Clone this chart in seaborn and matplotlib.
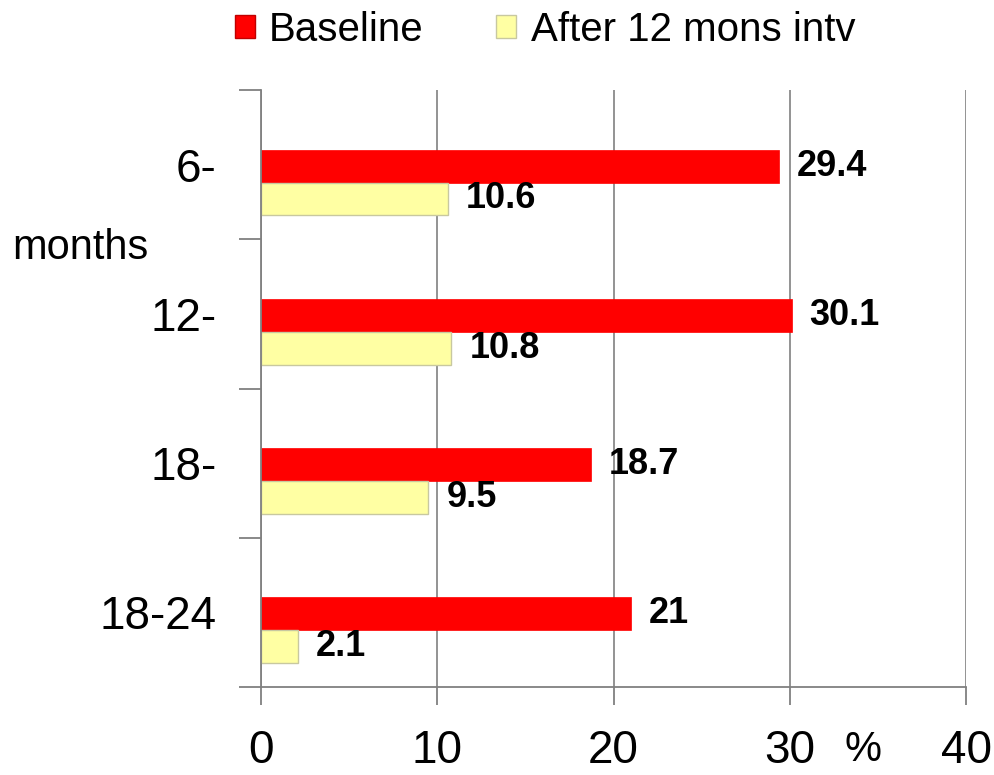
import matplotlib
matplotlib.use("Agg")
import matplotlib.pyplot as plt
from matplotlib.patches import Patch
import seaborn as sns
import pandas as pd
import numpy as np

categories = ["6-", "12-", "18-", "18-24"]
baseline = [29.4, 30.1, 18.7, 21.0]
after = [10.6, 10.8, 9.5, 2.1]
series_names = ["Baseline", "After 12 mons intv"]
x_ticks = [0, 10, 20, 30, 40]

sns.set_style("white")
plt.rcParams["font.family"] = ["Liberation Sans", "DejaVu Sans"]
plt.rcParams["text.color"] = "black"
plt.rcParams["xtick.color"] = "black"
plt.rcParams["ytick.color"] = "black"

idx = np.arange(len(categories))
offset = 0.12
df = pd.DataFrame({
    "pos": np.concatenate([idx + offset, idx + offset]),
    "value": baseline + after,
    "series": [series_names[0]] * len(categories) + [series_names[1]] * len(categories),
})

fig = plt.figure(figsize=(9.94, 7.75), dpi=100)
ax = fig.add_axes([261 / 994, 1 - 687 / 775, (966 - 261) / 994, (687 - 90) / 775])

red = "#FF0000"
yellow = "#FFFFA3"
sns.barplot(data=df, x="value", y="pos", hue="series", orient="h", native_scale=True,
            palette=[red, yellow], width=0.44, gap=0, ax=ax, legend=False,
            saturation=1)

for i, cont in enumerate(ax.containers):
    for p in cont:
        if i == 1:
            p.set_edgecolor("#C8C8A0")
            p.set_linewidth(1.0)
        else:
            p.set_edgecolor(red)
            p.set_linewidth(0.5)
    ax.bar_label(cont, fmt="{:g}", padding=13, fontsize=26, fontweight="bold",
                 color="black")

ax.set_xlim(0, 40)
ax.set_ylim(3.5, -0.5)
ax.set_xticks(x_ticks)
ax.set_xticklabels([str(t) for t in x_ticks], fontsize=33)
ax.set_yticks(idx)
ax.set_yticklabels(categories, fontsize=33)
ax.set_yticks(np.arange(-0.5, len(categories), 1.0), minor=True)
ax.tick_params(axis="y", which="major", left=True, length=0, pad=32, labelcolor="black")
ax.tick_params(axis="y", which="minor", left=True, length=16, width=1.3, color="#808080",
               direction="out")
ax.tick_params(axis="x", which="major", bottom=True, length=13, width=1.3, color="#808080",
               direction="out", pad=17, labelcolor="black")
ax.set_xlabel("")
ax.set_ylabel("")

ax.grid(axis="x", color="#808080", linewidth=1.2)
ax.grid(axis="y", visible=False)
ax.set_axisbelow(True)
for s in ["top", "right"]:
    ax.spines[s].set_visible(False)
for s in ["left", "bottom"]:
    ax.spines[s].set_color("#808080")
    ax.spines[s].set_linewidth(1.3)

fig.text(12 / 994, 1 - 248 / 775, "months", fontsize=30, ha="left", va="center",
         color="black")
fig.text(863 / 994, 1 - 750 / 775, "%", fontsize=30, ha="center", va="center",
         color="black")

handles = [Patch(facecolor=red, edgecolor="#C00000"),
           Patch(facecolor=yellow, edgecolor="#C8C8A0")]
leg = fig.legend(handles, series_names, loc="center", ncol=2, frameon=False,
                 bbox_to_anchor=(545 / 994, 1 - 30 / 775), fontsize=29,
                 handlelength=0.5, handleheight=0.5, handletextpad=0.35,
                 columnspacing=1.8)
for t in leg.get_texts():
    t.set_color("black")

fig.savefig("out.png", dpi=100)
